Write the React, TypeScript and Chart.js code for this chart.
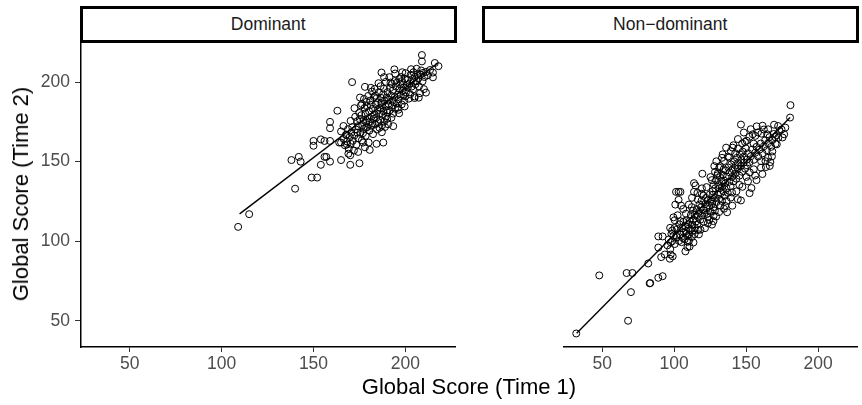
import React, { useEffect, useRef } from "react";
import { Chart, registerables } from "chart.js";

Chart.register(...registerables);

const FONT = "'Liberation Sans', Arial, Helvetica, sans-serif";

const panelNames = ["Dominant", "Non\u2212dominant"];
const xTitle = "Global Score (Time 1)";
const yTitle = "Global Score (Time 2)";
const xTicks = [50, 100, 150, 200];
const yTicks = [50, 100, 150, 200];
const xRange = [23.5, 227];
const yRange = [33.5, 225.2];

// Dominant panel: [Time 1, Time 2]
const dominantPoints: number[][] = [
  [109, 109], [115, 117], [140, 133], [138, 151], [142, 153], [143, 150], [149, 140], [152, 140],
  [150, 163], [150, 160], [154, 164], [156, 163], [154, 148], [156, 153], [157, 153], [159, 150],
  [159, 163], [159, 175], [159, 171], [163, 182], [165, 151], [165, 162], [164, 162], [165, 169],
  [168, 167], [170, 148], [175, 149], [169, 155], [170, 154], [172, 157], [171, 200], [178, 197],
  [178, 159], [180, 162], [177, 162], [188, 162], [187, 206], [194, 208], [209, 217], [209, 213],
  [216, 212], [218, 210], [215, 206], [215, 203], [205, 191], [205, 190], [208, 193], [200, 191],
  [198, 186],
  [166.4, 164.2], [167.1, 160.3], [167.6, 166.8], [168.3, 162.7], [168.8, 170.4], [169.2, 158.1], [169.7, 165.5], [170.3, 161.2],
  [170.6, 168.3], [170.2, 175.6], [171.4, 163.1], [171.1, 171.7], [172.2, 166.4], [172.7, 178.2], [173.3, 160.6], [173.1, 170.2],
  [173.8, 175.4], [174.4, 164.7], [174.2, 172.3], [174.9, 180.6], [175.5, 168.1], [175.2, 176.8], [175.8, 185.3], [176.3, 163.4],
  [176.6, 172.9], [176.1, 179.2], [177.4, 170.6], [177.2, 176.1], [177.8, 183.7], [177.5, 189.4], [178.4, 166.2], [178.7, 174.5],
  [178.2, 180.3], [178.9, 187.6], [179.3, 171.8], [179.6, 177.2], [179.1, 184.9], [179.8, 191.3], [180.4, 169.5], [180.7, 175.1],
  [180.2, 181.8], [180.9, 188.4], [181.3, 172.6], [181.6, 178.3], [181.1, 185.7], [181.8, 194.1], [182.4, 167.3], [182.7, 176.9],
  [182.2, 183.2], [182.9, 190.6], [183.5, 173.4], [183.2, 179.8], [183.8, 186.1], [183.3, 195.7], [184.6, 170.2], [184.1, 177.5],
  [184.9, 182.4], [184.4, 189.9], [185.3, 174.8], [185.7, 180.1], [185.1, 187.3], [185.6, 193.6], [186.4, 176.2], [186.2, 183.7],
  [186.8, 190.1], [186.5, 197.4], [187.3, 172.8], [187.7, 179.4], [187.2, 185.6], [187.9, 192.3], [188.4, 175.1], [188.1, 181.7],
  [188.7, 188.2], [188.3, 195.8], [189.5, 178.4], [189.2, 184.6], [189.8, 190.3], [189.4, 200.2], [190.6, 173.5], [190.2, 180.8],
  [190.8, 186.4], [190.3, 193.7], [191.5, 182.2], [191.1, 188.9], [191.7, 196.3], [191.3, 203.1], [192.4, 177.6], [192.8, 185.2],
  [192.2, 191.5], [192.6, 198.8], [193.3, 180.2], [193.7, 187.4], [193.1, 194.6], [194.4, 183.3], [194.2, 190.7], [194.8, 197.2],
  [194.5, 205.4], [195.3, 186.6], [195.8, 192.1], [195.2, 199.5], [196.6, 180.4], [196.3, 189.2], [196.9, 195.7], [197.4, 191.3],
  [197.1, 198.6], [197.7, 203.2], [198.5, 194.4], [198.2, 200.7], [199.4, 188.3], [199.1, 196.5], [199.7, 202.1], [200.3, 193.6],
  [200.8, 198.2], [201.4, 196.7], [201.2, 201.4], [202.6, 192.3], [202.3, 199.1], [202.9, 204.6], [203.4, 197.2], [203.7, 201.8],
  [204.2, 195.4], [204.6, 200.3], [204.4, 206.2], [205.5, 198.7], [205.2, 203.3], [206.3, 200.6], [206.7, 205.1], [207.4, 197.3],
  [207.1, 202.4], [208.2, 204.7], [208.6, 207.3], [209.3, 200.4], [209.7, 205.8], [210.4, 203.2], [210.1, 195.6], [211.3, 206.4],
  [212.2, 204.3], [213.4, 207.6], [207.3, 190.2], [211.2, 193.4], [196.2, 182.6], [193.4, 172.3], [187.2, 168.5], [184.3, 161.2],
  [180.6, 157.4], [174.3, 156.1], [168.2, 160.8], [166.3, 172.4], [172.3, 183.6], [176.4, 186.2], [175.3, 190.3], [181.2, 196.4],
  [185.4, 199.3], [198.3, 206.2], [188.4, 203.1], [194.2, 200.6], [183.7, 191.5], [186.9, 186.8], [189.9, 182.1], [192.9, 188.3],
  [195.9, 183.9], [198.9, 191.7], [201.9, 189.6], [178.6, 171.3], [176.9, 167.9], [173.9, 168.2], [182.1, 174.2], [185.9, 171.3],
  [191.9, 199.7], [196.7, 201.9], [200.1, 205.6], [203.1, 208.1], [206.1, 208.4], [199.6, 184.7], [190.1, 176.9], [188.9, 171.8],
];

// Non-dominant panel: [Time 1, Time 2]
const nonDominantPoints: number[][] = [
  [32, 42], [48, 78.5], [68, 50], [70, 68], [67, 80], [71, 80], [82, 86], [83, 73.5], [83.4, 73.7],
  [89, 77], [92, 78], [89, 96], [89, 103], [92, 103], [91, 90], [93.5, 91.6], [97, 89], [97.6, 91.6],
  [99, 90.5], [97.3, 95], [98.6, 100], [99.5, 103.5], [98.6, 106.7], [99.5, 115], [101.3, 131],
  [103.1, 131], [104.4, 131], [100.8, 123], [104.8, 122.4], [103.1, 126], [102, 102.5], [106, 102],
  [108.4, 104.6], [107.8, 93.6], [110.7, 96.6], [110.2, 108], [110.2, 123], [113.8, 136.5],
  [114.8, 135], [113.8, 131], [119.6, 142.4], [116.5, 107], [112.9, 106.7], [119.2, 129.8],
  [122.5, 134], [126.4, 123.5], [129.2, 115.5], [127.4, 116], [122.9, 117.2], [127, 129.2],
  [127.9, 147.2], [131.9, 147.2], [130.1, 141.4], [133.7, 154.6], [136.1, 158.8], [136.8, 118.2],
  [134.6, 120.4], [140.6, 158.8], [146.4, 173.3], [146.4, 125.6], [149.2, 162.4], [153.7, 133.4],
  [154.6, 167.2], [155.2, 161.3], [160.6, 167.6], [164.6, 167.2], [170, 165.5], [172.4, 165.1],
  [176.4, 167.2], [174.6, 170.2], [171.3, 160.9], [167.9, 153.3], [163.7, 146.6], [166.8, 149.7],
  [180.8, 185.5], [180.5, 177.7],
  [95.3, 97.4], [96.2, 101.1], [97.6, 99.3], [98.1, 104.6], [100.4, 98.2], [100.2, 108.3], [101.6, 103.4], [102.3, 107.7],
  [103.4, 100.2], [103.7, 110.6], [104.2, 104.3], [105.6, 108.1], [105.1, 99.4], [106.4, 112.2], [106.8, 105.6], [107.3, 101.2],
  [107.7, 109.4], [108.2, 106.3], [108.6, 113.1], [109.4, 99.6], [109.1, 103.2], [109.7, 110.5], [110.5, 104.3], [110.8, 112.7],
  [111.3, 107.2], [111.6, 116.4], [112.2, 102.6], [112.7, 110.3], [113.4, 113.6], [113.1, 119.2], [114.5, 108.3], [114.2, 116.7],
  [115.3, 112.4], [115.7, 120.2], [116.4, 115.3], [116.1, 110.6], [117.3, 118.4], [117.6, 123.1], [118.2, 113.5], [118.7, 121.3],
  [119.4, 116.2], [119.1, 125.6], [120.3, 119.4], [120.6, 112.2], [121.5, 123.3], [121.2, 117.7], [122.4, 120.6], [122.1, 127.2],
  [123.6, 115.4], [123.3, 125.8], [124.4, 122.3], [124.8, 129.4], [125.2, 118.6], [125.6, 126.1], [126.3, 124.7], [126.7, 131.4],
  [127.2, 121.3], [127.5, 135.6], [128.3, 127.2], [128.6, 133.3], [129.4, 124.6], [129.1, 138.2], [130.3, 129.4], [130.7, 135.3],
  [131.2, 126.6], [131.5, 133.2], [131.8, 140.3], [132.4, 130.2], [132.7, 137.6], [133.2, 125.3], [133.5, 134.4], [133.8, 141.7],
  [134.3, 131.3], [134.6, 138.2], [135.2, 128.6], [135.5, 136.3], [135.8, 144.4], [136.4, 133.2], [136.7, 140.6], [137.2, 130.4],
  [137.6, 146.3], [138.3, 137.4], [138.7, 143.2], [139.2, 134.6], [139.6, 148.2], [140.3, 140.4], [140.7, 145.3], [141.2, 137.6],
  [141.6, 150.2], [142.3, 142.4], [142.7, 147.6], [143.2, 139.3], [143.6, 152.4], [144.2, 145.6], [144.6, 149.3], [145.3, 141.2],
  [145.7, 154.6], [146.3, 147.2], [146.7, 151.4], [147.2, 143.6], [147.6, 156.3], [148.2, 149.4], [148.6, 153.2], [149.3, 145.6],
  [149.7, 158.4], [150.3, 151.2], [150.6, 147.7], [151.4, 155.3], [152.3, 149.6], [152.6, 143.2], [153.3, 153.4], [154.2, 157.6],
  [155.4, 151.2], [156.3, 155.6], [157.2, 159.3], [158.4, 153.2], [159.3, 157.6], [160.2, 161.4], [161.4, 155.2], [162.3, 159.6],
  [163.2, 163.4], [164.4, 157.2], [165.3, 161.6], [166.2, 165.4], [167.4, 159.3], [168.3, 163.6], [169.2, 167.4], [170.4, 161.2],
  [171.3, 166.6], [173.2, 169.4], [175.3, 165.2], [177.2, 171.4], [142.4, 155.3], [138.2, 152.6], [134.4, 145.2], [130.3, 142.6],
  [126.2, 138.4], [120.3, 128.6], [116.4, 126.2], [112.3, 121.4], [108.2, 117.3], [104.3, 112.6], [100.4, 113.2], [145.3, 135.4],
  [140.2, 130.6], [136.4, 125.3], [132.2, 122.4], [128.3, 119.2], [124.4, 113.3], [150.2, 140.4], [155.3, 145.2], [160.4, 150.3],
  [165.2, 152.4], [118.3, 107.2], [114.2, 104.4], [110.3, 100.2],
  [125.2, 140.3], [128.4, 143.6], [131.3, 146.2], [134.6, 150.4], [137.3, 153.2], [139.4, 156.6], [141.2, 160.3], [144.4, 158.2],
  [147.3, 161.4], [150.4, 163.2], [152.3, 165.6], [156.4, 166.2], [158.2, 168.4], [162.3, 170.2], [123.4, 111.2], [127.3, 112.6],
  [131.2, 118.3], [135.4, 122.2], [139.3, 127.4], [143.2, 131.3], [147.4, 134.2], [151.3, 137.6], [156.2, 141.3], [160.3, 146.2],
  [163.4, 150.3], [168.2, 156.4], [106.3, 120.2], [102.4, 116.3], [97.2, 108.4], [119.3, 133.2], [116.2, 130.4], [112.4, 127.3],
  [133.2, 152.4], [129.3, 150.2], [144.3, 164.2], [148.4, 168.3], [153.2, 170.4], [157.3, 172.2], [161.4, 172.6], [165.3, 170.3],
  [169.4, 173.2], [172.2, 172.4], [140.4, 122.3], [144.2, 126.4], [152.4, 130.2], [157.2, 138.4], [161.3, 142.2], [166.4, 147.3],
  [117.2, 104.3], [121.4, 108.2], [126.3, 110.4], [109.2, 96.3], [113.4, 99.2],
];

// Fitted regression lines: endpoints [Time 1, Time 2]
const dominantFit: number[][] = [[109.8, 117.2], [217.6, 212]];
const nonDominantFit: number[][] = [[32.3, 42.2], [180.5, 177.7]];

type PanelProps = {
  points: number[][];
  fit: number[][];
  showY: boolean;
  width: number;
  padLeft: number;
};

function Panel({ points, fit, showY, width, padLeft }: PanelProps) {
  const ref = useRef<HTMLCanvasElement | null>(null);
  useEffect(() => {
    if (!ref.current) return;
    const tickFont = { family: FONT, size: 17.5 };
    const chart = new Chart(ref.current, {
      type: "scatter",
      data: {
        datasets: [
          {
            type: "scatter",
            data: points.map((p) => ({ x: p[0], y: p[1] })),
            pointRadius: 3.5,
            pointBorderWidth: 1,
            pointBorderColor: "#000000",
            pointBackgroundColor: "rgba(0,0,0,0)",
          },
          {
            type: "line",
            data: fit.map((p) => ({ x: p[0], y: p[1] })),
            borderColor: "#000000",
            borderWidth: 1.4,
            pointRadius: 0,
            fill: false,
          } as any,
        ],
      },
      options: {
        responsive: false,
        animation: false,
        events: [],
        layout: { padding: { top: 42, right: 4, left: padLeft, bottom: 0 } },
        plugins: { legend: { display: false }, tooltip: { enabled: false }, title: { display: false } },
        scales: {
          x: {
            type: "linear",
            min: xRange[0],
            max: xRange[1],
            afterBuildTicks: (s: any) => {
              s.ticks = xTicks.map((v) => ({ value: v }));
            },
            afterFit: (s: any) => {
              s.height = 58;
            },
            grid: { display: true, drawOnChartArea: false, drawTicks: true, tickLength: 5, color: "#333333", lineWidth: 1 },
            border: { display: true, color: "#000000", width: 1.5 },
            ticks: { color: "#4D4D4D", font: tickFont, padding: 2, maxRotation: 0, autoSkip: false },
          },
          y: {
            type: "linear",
            display: showY,
            min: yRange[0],
            max: yRange[1],
            afterBuildTicks: (s: any) => {
              s.ticks = yTicks.map((v) => ({ value: v }));
            },
            afterFit: (s: any) => {
              s.width = 81;
            },
            grid: { display: true, drawOnChartArea: false, drawTicks: true, tickLength: 6, color: "#333333", lineWidth: 1 },
            border: { display: true, color: "#000000", width: 1.5 },
            ticks: { color: "#4D4D4D", font: tickFont, padding: 5, autoSkip: false },
          },
        },
      } as any,
    });
    return () => chart.destroy();
  }, [points, fit, showY, width, padLeft]);
  return <canvas ref={ref} width={width} height={405} style={{ width, height: 405, display: "block" }} />;
}

const stripStyle: React.CSSProperties = {
  position: "absolute",
  top: 6,
  height: 36.5,
  boxSizing: "border-box",
  border: "3px solid #000000",
  background: "#FFFFFF",
  display: "flex",
  alignItems: "center",
  justifyContent: "center",
  fontFamily: FONT,
  fontSize: 17.5,
  color: "#1A1A1A",
};

export default function App() {
  return (
    <div style={{ position: "absolute", left: 0, top: 0, width: 862, height: 405, background: "#FFFFFF", overflow: "hidden" }}>
      <div style={{ position: "absolute", left: 0, top: 0 }}>
        <Panel points={dominantPoints} fit={dominantFit} showY={true} width={460} padLeft={0} />
      </div>
      <div style={{ position: "absolute", left: 460, top: 0 }}>
        <Panel points={nonDominantPoints} fit={nonDominantFit} showY={false} width={402} padLeft={23} />
      </div>
      <div style={{ ...stripStyle, left: 80, width: 376.5 }}>{panelNames[0]}</div>
      <div style={{ ...stripStyle, left: 482, width: 376.5 }}>{panelNames[1]}</div>
      <div
        style={{
          position: "absolute",
          left: 469,
          top: 387,
          transform: "translate(-50%, -50%)",
          whiteSpace: "nowrap",
          fontFamily: FONT,
          fontSize: 22,
          lineHeight: 1,
          color: "#000000",
        }}
      >
        {xTitle}
      </div>
      <div
        style={{
          position: "absolute",
          left: 21,
          top: 194,
          transform: "translate(-50%, -50%) rotate(-90deg)",
          whiteSpace: "nowrap",
          fontFamily: FONT,
          fontSize: 22,
          lineHeight: 1,
          color: "#000000",
        }}
      >
        {yTitle}
      </div>
    </div>
  );
}
